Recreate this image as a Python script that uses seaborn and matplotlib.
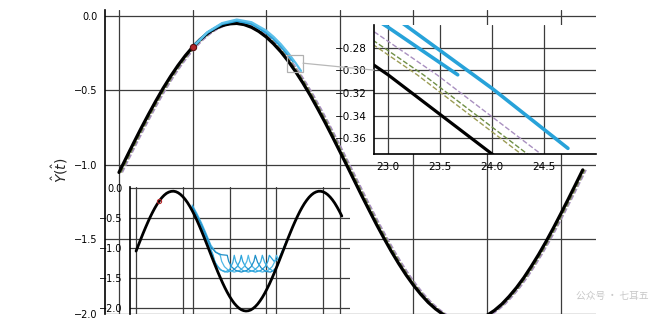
import numpy as np
import pandas as pd
import seaborn as sns
import matplotlib.pyplot as plt
from matplotlib.patches import Rectangle, ConnectionPatch

sns.set_style('white')
plt.rcParams['font.family'] = ['DejaVu Sans', 'Noto Sans CJK SC']

# true trajectory, t = 0..88
t_true = list(range(0, 89))
y_true = [-1.050, -0.950, -0.851, -0.754, -0.661, -0.571, -0.485, -0.406, -0.333, -0.267,
          -0.209, -0.159, -0.118, -0.086, -0.065, -0.053, -0.050, -0.058, -0.076, -0.104,
          -0.141, -0.187, -0.241, -0.304, -0.374, -0.451, -0.534, -0.623, -0.715, -0.811,
          -0.909, -1.008, -1.108, -1.208, -1.305, -1.401, -1.492, -1.580, -1.662, -1.738,
          -1.807, -1.868, -1.922, -1.966, -2.002, -2.028, -2.044, -2.050, -2.046, -2.033,
          -2.009, -1.976, -1.934, -1.882, -1.823, -1.756, -1.681, -1.601, -1.515, -1.424,
          -1.329, -1.232, -1.133, -1.033, -0.934, -0.835, -0.739, -0.645, -0.556, -0.472,
          -0.393, -0.321, -0.256, -0.200, -0.151, -0.112, -0.082, -0.062, -0.051, -0.051,
          -0.061, -0.080, -0.109, -0.148, -0.195, -0.251, -0.316, -0.387, -0.465]
n_main = 64  # main panel shows t = 0..63

# other models: same shape, delayed in time
model_lags = [0.28, 0.34, 0.47]
model_colors = ['#9c9c55', '#6f8f45', '#a990c0']

# observation point
t_obs = 10
y_obs = -0.209

# blue forecasts in main panel (two strands)
t_blue_a = [10, 12, 14, 16, 18, 20, 21, 22, 23, 23.67]
y_blue_a = [-0.209, -0.112, -0.053, -0.032, -0.052, -0.111, -0.153, -0.203, -0.262, -0.304]
t_blue_b = [10, 12, 14, 16, 18, 20, 21, 22, 23, 24, 24.73]
y_blue_b = [-0.209, -0.109, -0.048, -0.024, -0.042, -0.098, -0.140, -0.190, -0.249, -0.316, -0.369]

# blue forecasts in small panel (scalloped)
t_fan_a = [24, 26, 28, 30, 32, 33, 33.6, 34.8, 36.5, 39, 41.5, 43.2, 44.4, 45, 45.6, 46.8, 48.5,
           51, 53.5, 55.2, 56.4, 57, 59, 61, 62.5, 64.5]
y_fan_a = [-0.32, -0.47, -0.64, -0.83, -1.02, -1.12, -1.22, -1.31, -1.37, -1.40, -1.37, -1.31,
           -1.22, -1.12, -1.22, -1.31, -1.37, -1.40, -1.37, -1.31, -1.22, -1.12, -1.22, -1.18,
           -1.05, -0.87]
t_fan_b = [24, 26, 28, 30, 32, 34, 36, 36.6, 37.8, 39.5, 42, 44.5, 46.2, 47.4, 48, 48.6, 49.8,
           51.5, 54, 56.5, 58.2, 59.4, 60, 61, 62, 63.5, 64.5]
y_fan_b = [-0.28, -0.42, -0.58, -0.76, -0.95, -1.06, -1.12, -1.22, -1.31, -1.37, -1.40, -1.37,
           -1.31, -1.22, -1.12, -1.22, -1.31, -1.37, -1.40, -1.37, -1.31, -1.22, -1.12, -1.20,
           -1.10, -0.97, -0.88]
t_fan_c = [24, 26, 28, 30, 32, 34, 36.5, 39, 39.6, 40.8, 42.5, 45, 47.5, 49.2, 50.4, 51, 52,
           53.5, 55.5, 57.5, 59.5, 61, 62, 63.5, 64.5]
y_fan_c = [-0.30, -0.45, -0.61, -0.79, -0.98, -1.07, -1.11, -1.12, -1.22, -1.31, -1.37, -1.40,
           -1.37, -1.31, -1.22, -1.12, -1.24, -1.33, -1.39, -1.40, -1.36, -1.24, -1.12, -0.97,
           -0.87]
t_fan_d = [24, 26, 28, 30, 32, 34, 36, 38, 40, 41.4, 42, 42.6, 43.8, 45.5, 48, 50.5, 52.2, 53.4,
           54, 55, 56.5, 58.5, 60.5, 62, 63.5, 64.5]
y_fan_d = [-0.34, -0.50, -0.68, -0.87, -1.05, -1.25, -1.36, -1.40, -1.36, -1.24, -1.12, -1.22,
           -1.31, -1.37, -1.40, -1.37, -1.31, -1.22, -1.12, -1.24, -1.33, -1.38, -1.30, -1.12,
           -0.97, -0.87]
fan_t = [t_fan_a, t_fan_b, t_fan_c, t_fan_d]
fan_y = [y_fan_a, y_fan_b, y_fan_c, y_fan_d]
fan_colors = ['#2aa3dc', '#4fb8e6', '#1f8fc8', '#39acdf']

BLUE = '#27a2d9'
GRID = '#3c3c3c'


def line(ax, x, y, **kw):
    sns.lineplot(x=x, y=y, ax=ax, estimator=None, sort=False, **kw)


def style_axes(ax, fs=7):
    ax.grid(True, color=GRID, linewidth=0.9)
    ax.set_axisbelow(True)
    for s in ['top', 'right']:
        ax.spines[s].set_visible(False)
    ax.spines['left'].set_color('black')
    ax.spines['left'].set_linewidth(1.2)
    ax.tick_params(axis='both', direction='out', length=4, width=1, labelsize=fs,
                   colors='black', pad=1.5)
    ax.set_xlabel('')
    ax.set_ylabel('')


fig = plt.figure(figsize=(6.6, 3.25), dpi=100)

# ---- main panel
ax = fig.add_axes([105 / 660, 1 - 314 / 325, 491 / 660, 304 / 325])
t_main = t_true[:n_main]
y_main = y_true[:n_main]
for lag, c in zip(model_lags, model_colors):
    line(ax, [t + lag for t in t_main], y_main, color=c, linewidth=1.0, linestyle='--')
line(ax, t_main, y_main, color='black', linewidth=2.3)
line(ax, t_blue_a, y_blue_a, color=BLUE, linewidth=1.8)
line(ax, t_blue_b, y_blue_b, color='#5cc0ea', linewidth=1.6)
ax.plot([t_obs], [y_obs], 'o', ms=4.5, mfc='#b3262a', mec='#5a1010', mew=0.8, zorder=5)
ax.set_xlim(-1.9, 64.8)
ax.set_ylim(-2.0, 0.04)
ax.set_xticks([0, 10, 20, 30, 40, 50, 60])
ax.set_yticks([0.0, -0.5, -1.0, -1.5, -2.0])
style_axes(ax)
ax.spines['bottom'].set_visible(False)
ax.tick_params(axis='x', bottom=False, labelbottom=False)
ax.set_ylabel(r'$\hat{Y}(\hat{t})$', fontsize=10)
ax.yaxis.set_label_coords(-0.072, 0.474)

# zoom rectangle
x0, x1, y0, y1 = 22.865, 25.0, -0.374, -0.26
ax.add_patch(Rectangle((x0, y0), x1 - x0, y1 - y0, fill=False, edgecolor='#b0b0b0',
                       linewidth=0.9, zorder=6))

# ---- zoom inset
axz = fig.add_axes([374 / 660, 1 - 154 / 325, 222 / 660, 129 / 325])
axz.set_facecolor('white')
for lag, c in zip(model_lags, model_colors):
    line(axz, [t + lag for t in t_true], y_true, color=c, linewidth=1.0, linestyle='--')
line(axz, t_true, y_true, color='black', linewidth=2.3)
line(axz, t_blue_a, y_blue_a, color=BLUE, linewidth=2.6)
line(axz, t_blue_b, y_blue_b, color=BLUE, linewidth=2.6)
axz.set_xlim(x0, x1)
axz.set_ylim(y0, y1)
axz.set_xticks([23.0, 23.5, 24.0, 24.5])
axz.set_yticks([-0.36, -0.34, -0.32, -0.30, -0.28])
style_axes(axz, fs=7.5)
axz.spines['bottom'].set_color('black')
axz.spines['bottom'].set_linewidth(1.2)

con = ConnectionPatch(xyA=(x1, (y0 + y1) / 2), coordsA=ax.transData,
                      xyB=(0, 0.65), coordsB=axz.transAxes,
                      color='#b8b8b8', linewidth=0.9)
fig.add_artist(con)

# ---- long-horizon inset
axl = fig.add_axes([130 / 660, 1 - 314 / 325, 220 / 660, 127 / 325])
axl.set_facecolor('none')
for tt, yy, c in zip(fan_t, fan_y, fan_colors):
    line(axl, tt, yy, color=c, linewidth=0.9)
line(axl, t_true, y_true, color='black', linewidth=2.0)
axl.plot([t_obs], [y_obs], 'o', ms=3, mfc='none', mec='#b3262a', mew=0.8, zorder=5)
axl.set_xlim(-2.6, 91.5)
axl.set_ylim(-2.1, 0.02)
axl.set_xticks([0, 20, 40, 60, 80])
axl.set_yticks([0.0, -0.5, -1.0, -1.5, -2.0])
style_axes(axl)
axl.spines['bottom'].set_visible(False)
axl.tick_params(axis='x', bottom=False, labelbottom=False)

fig.text(0.872, 0.089, '公众号 · 七耳五', color='#c8c8c8', fontsize=7,
         family=['Noto Sans CJK SC', 'DejaVu Sans'], va='center')

fig.savefig('out.png', dpi=100)
